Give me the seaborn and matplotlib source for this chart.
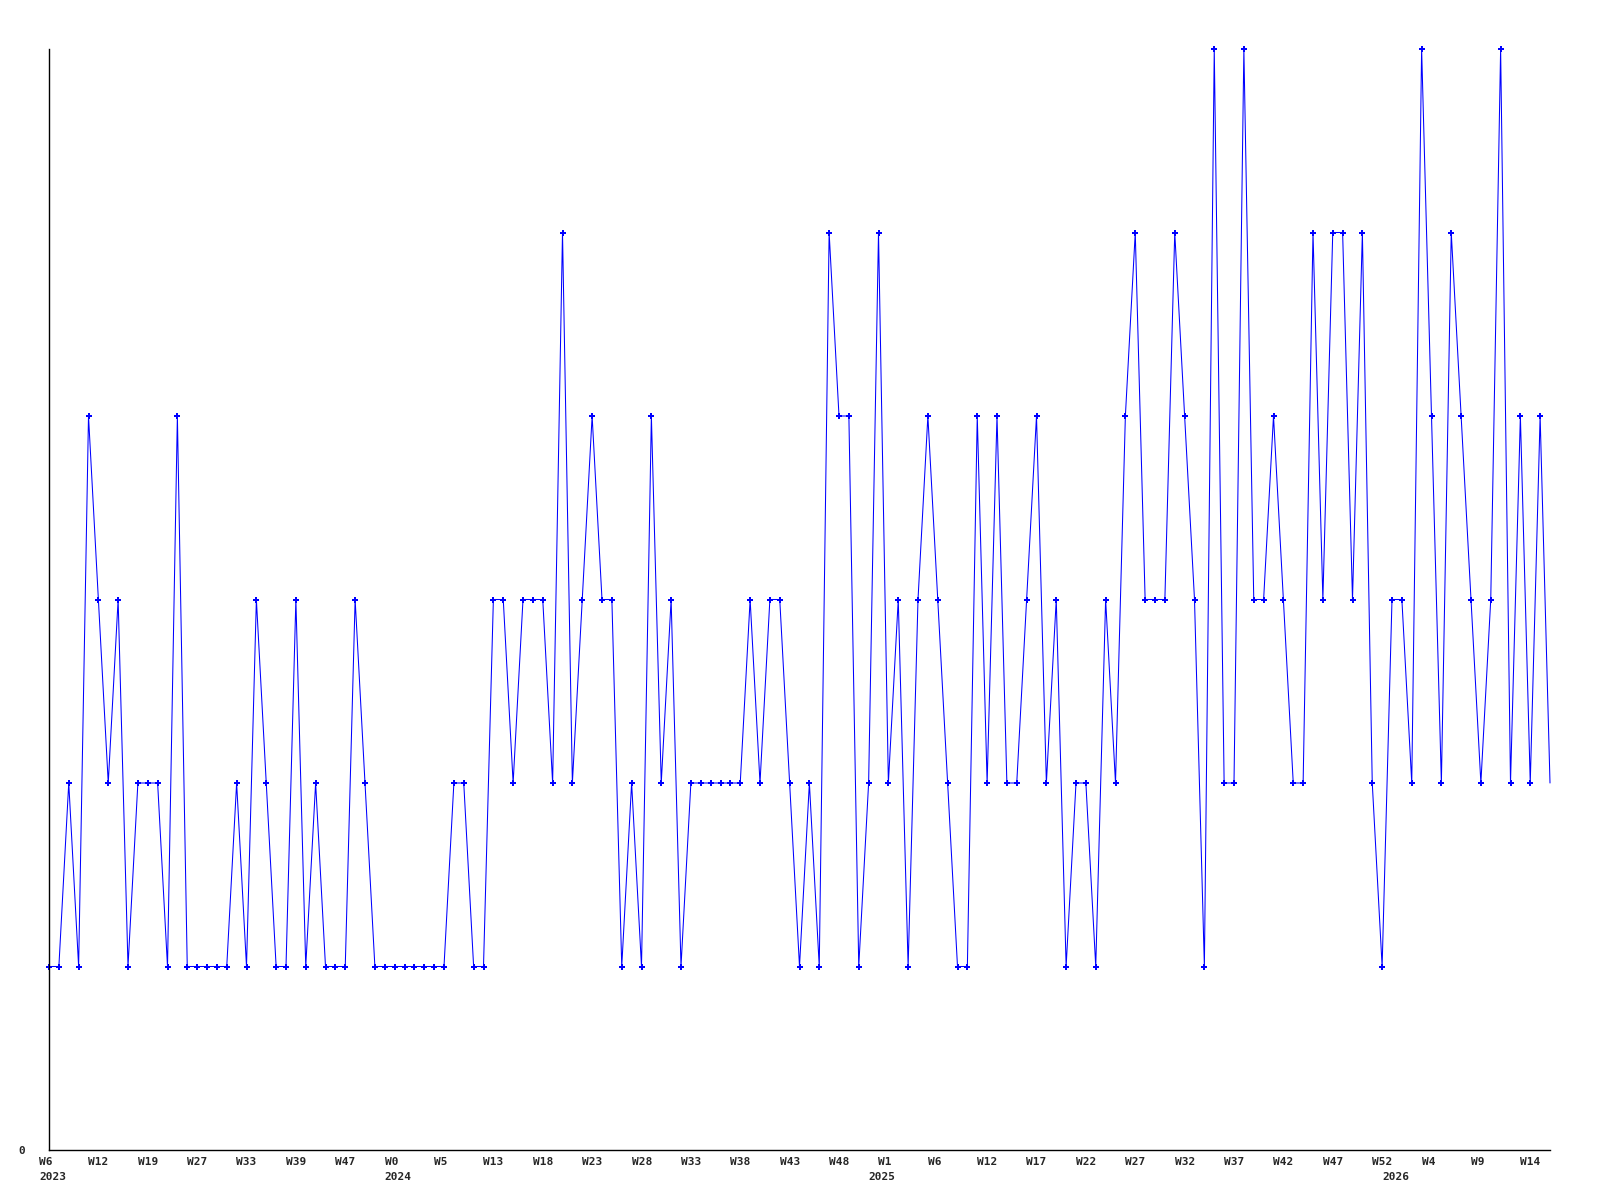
import matplotlib
matplotlib.use('Agg')
import matplotlib.pyplot as plt
import matplotlib.transforms as mtransforms
import seaborn as sns

# weekly counts, one value per point (left to right)
values = [
    1, 1, 2, 1, 4, 3, 2, 3, 1, 2, 2, 2, 1, 4, 1, 1, 1, 1, 1, 2, 1, 3, 2, 1, 1, 3, 1,
    2, 1, 1, 1, 3, 2, 1, 1, 1, 1, 1, 1, 1, 1, 2, 2, 1, 1, 3, 3, 2, 3, 3, 3, 2, 5,
    2, 3, 4, 3, 3, 1, 2, 1, 4, 2, 3, 1, 2, 2, 2, 2, 2, 2, 3, 2, 3, 3, 2, 1, 2, 1, 5,
    4, 4, 1, 2, 5, 2, 3, 1, 3, 4, 3, 2, 1, 1, 4, 2, 4, 2, 2, 3, 4, 2, 3, 1, 2, 2,
    1, 3, 2, 4, 5, 3, 3, 3, 5, 4, 3, 1, 6, 2, 2, 6, 3, 3, 4, 3, 2, 2, 5, 3, 5, 5,
    3, 5, 2, 1, 3, 3, 2, 6, 4, 2, 5, 4, 3, 2, 3, 6, 2, 4, 2, 4, 2,
]
week_labels = ['W6', 'W12', 'W19', 'W27', 'W33', 'W39', 'W47', 'W0', 'W5', 'W13',
               'W18', 'W23', 'W28', 'W33', 'W38', 'W43', 'W48', 'W1', 'W6', 'W12',
               'W17', 'W22', 'W27', 'W32', 'W37', 'W42', 'W47', 'W52', 'W4', 'W9',
               'W14']
year_labels = ['2023', '2024', '2025', '2026']
year_points = [0, 35, 84, 136]

x = list(range(len(values)))
tick_points = list(range(0, len(values), 5))[:len(week_labels)]

sns.set_style('white')
plt.rcParams['font.family'] = ['DejaVu Sans Mono', 'DejaVu Sans']

fig = plt.figure(figsize=(16, 12), dpi=100)
ax = fig.add_axes([49 / 1600, 1 - 1150 / 1200, 1501 / 1600, 1101 / 1200])

# the last point has no marker in the original
sns.lineplot(x=x, y=values, ax=ax, color='#0000ff', linewidth=0.75,
             marker='P', markersize=3.8, markeredgewidth=0,
             markerfacecolor='#0000ff', markevery=x[:-1], clip_on=False)

ax.set_xlim(0, len(values) - 1)
ax.set_ylim(0, 6)

for side in ['top', 'right']:
    ax.spines[side].set_visible(False)
for side in ['left', 'bottom']:
    ax.spines[side].set_color('black')
    ax.spines[side].set_linewidth(1)

ax.set_yticks([0], ['0'], fontsize=8, fontweight='bold')
ax.tick_params(axis='y', length=0, pad=17)

ax.set_xticks(tick_points, week_labels, fontsize=8, fontweight='bold')
ax.tick_params(axis='x', length=0, pad=5)
shift = mtransforms.ScaledTranslation(-10 / 100, 0, fig.dpi_scale_trans)
for lbl in ax.get_xticklabels():
    lbl.set_horizontalalignment('left')
    lbl.set_transform(lbl.get_transform() + shift)

trans = mtransforms.blended_transform_factory(ax.transData, ax.transAxes) + shift
for pos, yr in zip(year_points, year_labels):
    ax.text(pos, -22 / 1101, yr, transform=trans, ha='left', va='top',
            fontsize=8, fontweight='bold')

ax.set_xlabel('')
ax.set_ylabel('')

fig.savefig('out.png', dpi=100)
plt.close(fig)
